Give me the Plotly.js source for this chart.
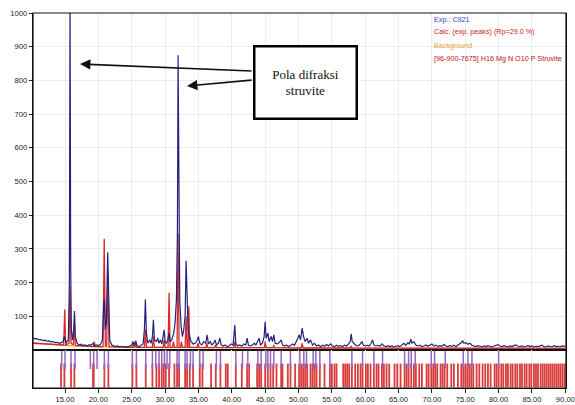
<!DOCTYPE html>
<html>
<head>
<meta charset="utf-8">
<script src="https://cdn.plot.ly/plotly-3.0.1.min.js"></script>
<style>html,body{margin:0;padding:0;background:#fff;}#chart{width:575px;height:405px;}</style>
</head>
<body>
<div id="chart"></div>
<script>
// ---- Experimental pattern (Exp.: C921) ----
var expTwoTheta = [10.2,10.5,10.8,11.1,11.4,11.7,12.0,12.3,12.6,12.9,13.2,13.5,13.8,14.1,14.4,14.7,14.9,15.0,15.2,15.5,15.65,15.75,15.85,15.95,16.1,16.3,16.42,16.55,16.8,17.1,17.4,17.7,18.0,18.3,18.6,18.9,19.2,19.4,19.7,20.0,20.3,20.6,20.8,20.9,21.05,21.2,21.4,21.55,21.7,22.0,22.3,22.6,22.9,23.2,23.5,23.8,24.1,24.4,24.7,25.0,25.2,25.4,25.6,25.8,26.1,26.4,26.7,26.9,27.05,27.2,27.4,27.7,27.9,28.1,28.25,28.4,28.7,28.9,29.1,29.3,29.5,29.7,29.85,30.0,30.2,30.4,30.6,30.75,31.0,31.3,31.5,31.7,31.85,31.95,32.05,32.2,32.4,32.6,32.8,33.0,33.15,33.3,33.45,33.7,33.9,34.2,34.5,34.8,35.0,35.2,35.5,35.8,36.1,36.3,36.5,36.8,37.0,37.3,37.5,37.7,38.0,38.2,38.4,38.7,39.0,39.3,39.6,39.9,40.2,40.45,40.6,40.9,41.2,41.5,41.8,42.1,42.3,42.5,42.8,43.1,43.4,43.6,43.9,44.1,44.3,44.6,44.85,45.0,45.15,45.4,45.6,45.9,46.1,46.3,46.5,46.8,47.1,47.4,47.6,47.9,48.2,48.5,48.8,49.1,49.4,49.7,49.9,50.1,50.3,50.55,50.75,51.0,51.3,51.5,51.8,52.1,52.4,52.7,53.0,53.3,53.6,53.9,54.2,54.5,54.8,55.1,55.4,55.7,56.0,56.3,56.6,56.9,57.2,57.5,57.75,57.9,58.05,58.3,58.6,58.9,59.2,59.5,59.7,60.0,60.3,60.6,60.9,61.1,61.3,61.6,61.9,62.2,62.5,62.8,63.1,63.4,63.7,64.0,64.3,64.6,64.9,65.2,65.5,65.8,66.1,66.4,66.6,66.85,67.0,67.3,67.6,67.9,68.2,68.5,68.8,69.1,69.4,69.7,70.0,70.3,70.6,70.9,71.2,71.5,71.8,72.1,72.4,72.7,73.0,73.3,73.6,73.9,74.2,74.45,74.6,74.8,75.1,75.4,75.7,76.0,76.3,76.6,76.9,77.2,77.5,77.8,78.1,78.4,78.7,79.0,79.3,79.6,79.9,80.2,80.5,80.8,81.1,81.4,81.7,82.0,82.3,82.6,82.9,83.2,83.5,83.8,84.1,84.4,84.7,85.0,85.3,85.6,85.9,86.2,86.5,86.8,87.1,87.4,87.7,88.0,88.3,88.6,88.9,89.2,89.5,89.8,90.0];
var expCounts = [36,33,34,30,31,28,29,26,27,24,25,22,23,20,21,25,40,30,22,30,200,1050,250,60,30,60,116,40,20,15,17,13,15,12,16,14,20,12,15,13,16,30,140,150,60,80,290,120,30,15,12,10,12,9,11,9,10,8,12,15,25,15,28,12,10,14,18,60,150,50,20,30,20,40,90,30,25,35,20,30,18,40,60,25,20,30,50,25,30,50,80,150,350,875,420,150,70,40,60,100,265,180,60,40,25,18,20,28,40,20,15,25,20,45,18,25,15,20,30,15,20,35,15,12,15,10,12,18,15,74,20,12,15,11,18,15,35,14,12,15,20,14,25,35,15,20,40,84,35,50,25,40,25,45,20,18,22,30,15,12,15,10,13,18,14,25,35,45,30,65,40,25,35,20,30,15,20,12,15,10,14,11,16,12,18,12,10,14,11,13,10,14,12,18,25,48,25,20,14,12,16,25,15,12,14,12,20,30,15,12,14,11,18,12,10,13,10,12,9,11,13,10,15,20,14,22,18,32,20,25,15,12,14,10,12,15,11,14,18,12,14,10,13,11,16,12,10,13,11,14,10,15,18,22,28,20,22,17,20,14,12,10,13,11,9,12,10,13,11,9,12,14,16,12,10,13,11,9,12,10,13,15,11,10,12,9,11,13,10,12,9,11,10,12,14,10,9,12,11,9,13,10,11,9,12,10,11];

// ---- Calculated pattern (exp. peaks) ----
var calcTwoTheta = [10.2,14.5,14.8,14.95,15.1,15.6,15.75,15.9,16.25,16.4,16.55,19.3,19.4,19.5,20.7,20.88,21.05,21.25,21.42,21.6,25.1,25.25,25.4,25.55,25.7,26.9,27.05,27.2,28.1,28.25,28.4,29.7,29.85,30.0,30.45,30.6,30.75,31.1,31.25,31.4,31.8,31.95,32.1,32.3,32.45,32.6,33.0,33.15,33.3,33.45,33.55,33.7,34.8,34.95,35.1,36.1,36.25,36.4,37.4,37.55,37.7,40.3,40.45,40.6,44.9,45.0,45.15,46.2,46.3,46.4,50.4,50.55,50.7,57.8,57.9,58.0,90.0];
var calcCounts = [20,14,15,120,15,20,190,20,15,80,14,10,25,10,10,330,12,12,230,10,8,20,8,20,8,8,60,8,8,40,8,8,30,8,8,170,8,8,25,8,8,345,8,8,25,8,8,100,8,8,130,8,8,20,8,7,20,7,7,15,7,7,25,7,7,25,7,7,15,7,6,20,6,6,12,6,5];

// ---- Background ----
var bgTwoTheta = [10.2,12,14,16,18,20,25,30,35,40,50,60,70,80,90];
var bgCounts = [22,18,15,12,10,9,8,8,7,7,6,6,5,5,5];

// ---- Peak markers (lower panel) ----
var expPeakPos = [14.5,15.0,15.9,16.5,18.8,19.3,19.8,20.9,21.5,25.1,25.7,27.1,28.1,28.6,29.1,29.5,29.9,30.3,30.7,31.8,32.1,33.0,33.3,33.8,34.2,35.2,35.7,37.7,38.3,40.6,41.6,42.4,43.9,44.4,45.1,45.4,45.8,46.3,47.4,48.8,50.2,50.8,51.2,52.2,52.6,53.2,54.7,58.0,59.6,61.3,62.6,65.9,66.5,66.9,67.5,69.9,70.4,72.0,74.7,75.4,76.0,80.0];
var struvitePos = [14.4,14.9,15.9,16.4,19.2,19.3,20.9,21.5,25.1,25.7,27.1,28.1,28.7,29.1,29.5,29.8,30.1,30.6,31.4,31.8,32.1,33.0,33.3,33.7,34.2,35.2,35.6,36.9,37.6,38.3,39.1,39.4,40.6,41.5,42.3,42.6,43.8,44.1,44.4,45.0,45.4,45.8,46.2,46.7,47.4,47.6,48.4,48.8,49.5,50.1,50.4,50.7,51.0,51.3,51.8,52.1,52.4,52.7,53.2,53.9,54.7,55.0,55.4,55.7,56.7,57.0,57.3,57.6,58.0,58.5,58.9,59.3,59.6,60.1,60.4,60.8,61.3,61.7,62.0,62.5,62.8,63.2,63.6,64.4,64.8,65.3,65.9,66.2,66.5,66.9,67.3,67.6,68.1,68.5,69.2,69.5,69.9,70.2,70.5,70.8,71.3,71.6,71.9,72.3,72.9,73.3,73.9,74.4,74.7,75.0,75.3,75.6,75.9,76.2,76.7,77.1,77.6,78.0,78.4,78.8,79.4,79.7,80.0,80.4,80.7,81.1,81.4,81.8,82.1,82.5,82.8,83.2,83.5,83.9,84.2,84.6,84.9,85.3,85.6,85.9,86.3,86.6,86.9,87.2,87.5,87.8,88.1,88.4,88.7,89.0,89.3,89.6,89.9];

var xTicks = [15,20,25,30,35,40,45,50,55,60,65,70,75,80,85,90];
var xTickText = ["15.00","20.00","25.00","30.00","35.00","40.00","45.00","50.00","55.00","60.00","65.00","70.00","75.00","80.00","85.00","90.00"];
var yTicks = [100,200,300,400,500,600,700,800,900,1000];
var yTickText = ["100","200","300","400","500","600","700","800","900","1000"];

var legendTexts = ["Exp.: C921","Calc. (exp. peaks) (Rp=29.0 %)","Background","[96-900-7675] H16 Mg N O10 P Struvite"];
var legendColors = ["#3a3ac8","#cc2222","#e8a030","#c01010"];
var noteText = "Pola difraksi<br>struvite";

var PW = 575 - 33 - 9;   // plot width in px
var traces = [
  {x: bgTwoTheta, y: bgCounts, type: 'scatter', mode: 'lines', line: {color: '#f0a020', width: 1.2}, xaxis: 'x', yaxis: 'y', hoverinfo: 'skip'},
  {x: calcTwoTheta, y: calcCounts, type: 'scatter', mode: 'lines', line: {color: '#d42a2a', width: 1.3}, xaxis: 'x', yaxis: 'y', hoverinfo: 'skip'},
  {x: expTwoTheta, y: expCounts, type: 'scatter', mode: 'lines', line: {color: '#23237e', width: 1.2}, xaxis: 'x', yaxis: 'y', hoverinfo: 'skip'},
  {x: struvitePos, y: struvitePos.map(function(){return 0.33;}), type: 'scatter', mode: 'markers', marker: {symbol: 'line-ns-open', size: 17, line: {color: '#d82020', width: 1.8}}, opacity: 0.9, xaxis: 'x', yaxis: 'y2', hoverinfo: 'skip'},
  {x: expPeakPos, y: expPeakPos.map(function(){return 0.74;}), type: 'scatter', mode: 'markers', marker: {symbol: 'line-ns-open', size: 13, line: {color: '#3d4cb8', width: 1.5}}, xaxis: 'x', yaxis: 'y2', hoverinfo: 'skip'}
];

var annotations = [];
var legendY = [19, 32, 45, 58];
for (var i = 0; i < legendTexts.length; i++) {
  annotations.push({xref: 'paper', yref: 'paper', x: (432 - 33) / PW, y: (388 - legendY[i]) / 375, xanchor: 'left', yanchor: 'middle', text: legendTexts[i], showarrow: false, font: {family: 'Liberation Sans, Arial', size: 7.2, color: legendColors[i]}});
}
annotations.push({xref: 'paper', yref: 'paper', x: (305 - 33) / PW, y: (388 - 82) / 375, xanchor: 'center', yanchor: 'middle', text: noteText, showarrow: false, width: 100, height: 70, borderwidth: 2.5, bordercolor: '#000', bgcolor: '#fff', borderpad: 0, font: {family: 'Liberation Serif, Times New Roman, serif', size: 13, color: '#111'}});
annotations.push({xref: 'paper', yref: 'paper', x: (80 - 33) / PW, y: (388 - 64) / 375, ax: 173, ay: 7, text: '', showarrow: true, arrowhead: 2, arrowsize: 1.3, arrowwidth: 1.6, arrowcolor: '#111'});
annotations.push({xref: 'paper', yref: 'paper', x: (187 - 33) / PW, y: (388 - 86) / 375, ax: 66, ay: -6, text: '', showarrow: true, arrowhead: 2, arrowsize: 1.3, arrowwidth: 1.6, arrowcolor: '#111'});

var tickFont = {family: 'Liberation Sans, Arial', size: 7.6, color: '#222'};
var layout = {
  width: 575, height: 405,
  margin: {l: 33, r: 9, t: 13, b: 17},
  paper_bgcolor: '#fff', plot_bgcolor: '#fff',
  showlegend: false,
  xaxis: {range: [10.2, 90.1], anchor: 'y2', tickvals: xTicks, ticktext: xTickText, ticks: 'outside', ticklen: 4, tickcolor: '#222', ticklabeloverflow: 'allow', showline: true, linecolor: '#111', linewidth: 1.2, showgrid: true, gridcolor: '#ececec', zeroline: false, tickfont: tickFont},
  yaxis: {domain: [38 / 375, 1], range: [0, 1000], tickvals: yTicks, ticktext: yTickText, ticks: 'outside', ticklen: 3, tickcolor: '#222', ticklabeloverflow: 'allow', showline: true, linecolor: '#111', linewidth: 1.2, mirror: true, showgrid: true, gridcolor: '#ececec', zeroline: true, zerolinecolor: '#111', zerolinewidth: 2, tickfont: tickFont},
  yaxis2: {domain: [0, 38 / 375], range: [0, 1], showticklabels: false, ticks: '', showline: true, linecolor: '#111', linewidth: 1.2, mirror: true, showgrid: false, zeroline: false},
  annotations: annotations,
  shapes: [{type: 'rect', xref: 'paper', yref: 'paper', x0: 0, x1: 1, y0: 0, y1: 1, line: {color: '#111', width: 1.2}}]
};

Plotly.newPlot('chart', traces, layout, {displayModeBar: false, staticPlot: true});
</script>
</body>
</html>
